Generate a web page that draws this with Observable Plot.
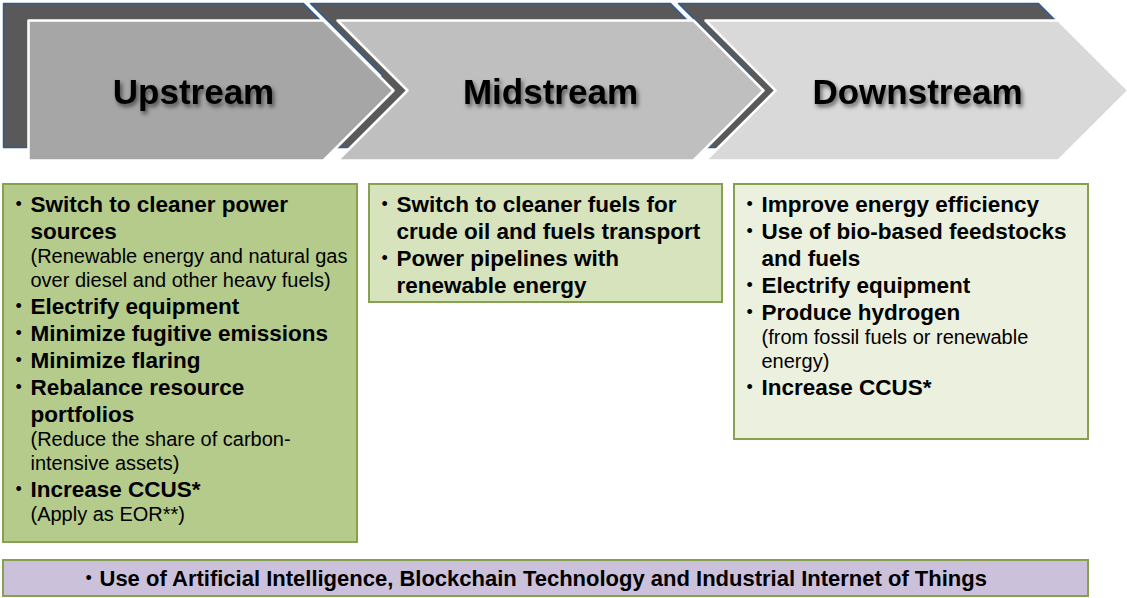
<!DOCTYPE html>
<html><head><meta charset="utf-8">
<script src="https://cdn.jsdelivr.net/npm/d3@7"></script>
<script src="https://cdn.jsdelivr.net/npm/@observablehq/plot@0.6"></script>
<style>html,body{margin:0;padding:0;background:#fff;}</style>
</head><body><div id="chart"></div>
<script>
// ---------- data ----------
const stages = ["Upstream", "Midstream", "Downstream"];
const stageColors = ["#a6a6a6", "#bfbfbf", "#d9d9d9"];
const boxColors = ["#b4cb8c", "#d6e3bc", "#ebf1de"];
const upstreamActions = [
  {title: ["Switch to cleaner power", "sources"], note: ["(Renewable energy and natural gas", "over diesel and other heavy fuels)"]},
  {title: ["Electrify equipment"], note: []},
  {title: ["Minimize fugitive emissions"], note: []},
  {title: ["Minimize flaring"], note: []},
  {title: ["Rebalance resource", "portfolios"], note: ["(Reduce the share of carbon-", "intensive assets)"]},
  {title: ["Increase CCUS*"], note: ["(Apply as EOR**)"]}
];
const midstreamActions = [
  {title: ["Switch to cleaner fuels for", "crude oil and fuels transport"], note: []},
  {title: ["Power pipelines with", "renewable energy"], note: []}
];
const downstreamActions = [
  {title: ["Improve energy efficiency"], note: []},
  {title: ["Use of bio-based feedstocks", "and fuels"], note: []},
  {title: ["Electrify equipment"], note: []},
  {title: ["Produce hydrogen"], note: ["(from fossil fuels or renewable", "energy)"]},
  {title: ["Increase CCUS*"], note: []}
];
const crossCutting = "Use of Artificial Intelligence, Blockchain Technology and Industrial Internet of Things";

// ---------- layout ----------
const W = 1127, H = 598;
const front = {top: 20, bottom: 160, depth: 70, spans: [[28, 323], [337, 693], [705, 1058]]};
const back = {top: 3, bottom: 147, depth: 72, spans: [[3, 303], [310, 670], [678, 1038]]};
const labelX = [193, 550, 917], labelY = 92;
const boxes = {x: [[3, 357], [369, 722], [734, 1088]], top: 184, bottom: [542, 302, 439]};
const bar = {x1: 3, x2: 1088, y1: 560, y2: 596};
const firstLineY = 204, stepBB = 27, stepNN = 24, stepMix = 25.5;

function chevron(id, span, top, bottom, depth, notch, color) {
  const [a, b] = span, mid = (top + bottom) / 2;
  const pts = [[a, top], [b, top], [b + depth, mid], [b, bottom], [a, bottom]];
  if (notch) pts.push([a + depth, mid]);
  return pts.map(([x, y]) => ({id, x, y, color}));
}
const backPts = stages.flatMap((s, i) => chevron("b" + i, back.spans[i], back.top, back.bottom, back.depth, i > 0, "#595959"));
const frontPts = stages.flatMap((s, i) => chevron("f" + i, front.spans[i], front.top, front.bottom, front.depth, i > 0, stageColors[i]));

const boxData = stages.map((s, i) => ({x1: boxes.x[i][0], x2: boxes.x[i][1], y1: boxes.top, y2: boxes.bottom[i], color: boxColors[i]}));

const lines = [];
[upstreamActions, midstreamActions, downstreamActions].forEach((acts, i) => {
  let y = null, prev = null;
  const x0 = boxes.x[i][0];
  for (const a of acts) {
    a.title.forEach((t, j) => {
      y = y === null ? firstLineY : y + (prev === "b" ? stepBB : stepMix);
      lines.push({kind: "b", bullet: j === 0, text: t, x: x0 + 27, bx: x0 + 12, y});
      prev = "b";
    });
    a.note.forEach(t => {
      y = y + (prev === "n" ? stepNN : stepMix);
      lines.push({kind: "n", bullet: false, text: t, x: x0 + 27, bx: x0 + 12, y});
      prev = "n";
    });
  }
});
const headers = stages.map((s, i) => ({text: s, x: labelX[i], y: labelY}));

const chart = Plot.plot({
  width: W, height: H, margin: 0,
  x: {domain: [0, W], range: [0, W], axis: null},
  y: {domain: [0, H], range: [0, H], axis: null},
  color: {type: "identity"},
  style: {fontFamily: "'Liberation Sans', Arial, sans-serif", background: "white"},
  marks: [
    Plot.line(backPts, {x: "x", y: "y", z: "id", fill: "color", stroke: "#2f5b97", strokeWidth: 1.5, curve: "linear-closed"}),
    Plot.line(frontPts, {x: "x", y: "y", z: "id", fill: "color", stroke: "white", strokeWidth: 2.5, curve: "linear-closed"}),
    Plot.text(headers, {x: "x", y: "y", text: "text", fill: "#000", fontSize: 35, fontWeight: "bold", imageFilter: "drop-shadow(2px 3px 2px rgba(0,0,0,0.55))"}),
    Plot.rect(boxData, {x1: "x1", x2: "x2", y1: "y1", y2: "y2", fill: "color", stroke: "#87a24f", strokeWidth: 2}),
    Plot.rect([bar], {x1: "x1", x2: "x2", y1: "y1", y2: "y2", fill: "#ccc1da", stroke: "#87a24f", strokeWidth: 2}),
    Plot.text(lines.filter(d => d.kind === "b"), {x: "x", y: "y", text: "text", textAnchor: "start", fontSize: 22.5, fontWeight: "bold", fill: "#000"}),
    Plot.text(lines.filter(d => d.kind === "n"), {x: "x", y: "y", text: "text", textAnchor: "start", fontSize: 20, fill: "#000"}),
    Plot.text(lines.filter(d => d.bullet), {x: "bx", y: "y", text: () => "•", textAnchor: "start", fontSize: 18, fill: "#000"}),
    Plot.text([{x: bar.x1 + 82, y: (bar.y1 + bar.y2) / 2}], {x: "x", y: "y", text: () => "•", textAnchor: "start", fontSize: 18, fill: "#000"}),
    Plot.text([{x: bar.x1 + 96, y: (bar.y1 + bar.y2) / 2, t: crossCutting}], {x: "x", y: "y", text: "t", textAnchor: "start", fontSize: 22, fontWeight: "bold", fill: "#000"})
  ]
});
document.getElementById("chart").appendChild(chart);
</script>
</body></html>
